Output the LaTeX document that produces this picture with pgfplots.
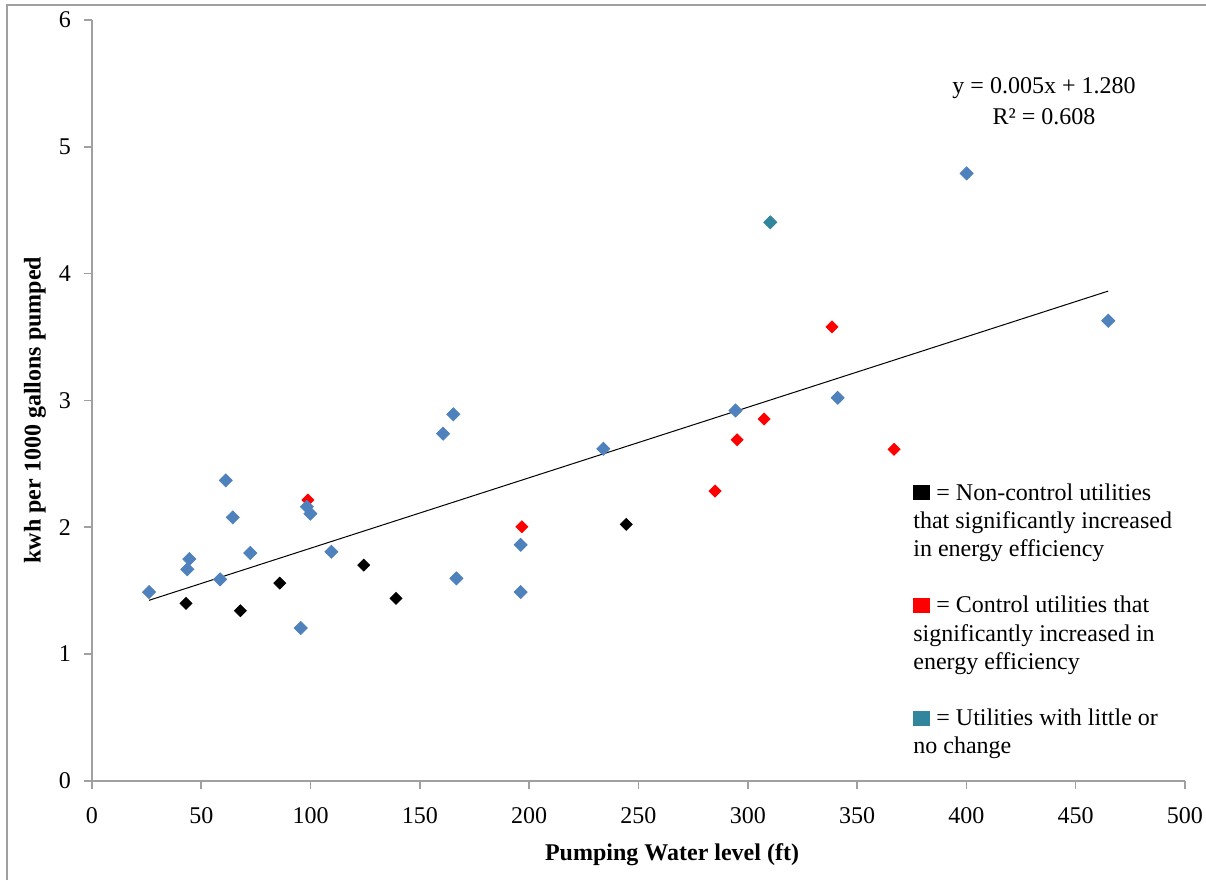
\documentclass[border=0pt]{standalone}
\usepackage{pgfplots}
\pgfplotsset{compat=1.18}
\usepackage{fontspec}
\setmainfont{Liberation Serif}
\definecolor{xlblue}{HTML}{4F81BD}
\definecolor{xlred}{HTML}{FF0000}
\definecolor{xlteal}{HTML}{31859C}
\definecolor{axgray}{HTML}{A0A0A0}
\pgfplotstableread{
x y
98.8 2.214
196.7 2.003
285.0 2.285
295.1 2.689
307.5 2.853
338.5 3.580
366.9 2.614
}\redpts
\pgfplotstableread{
x y
26.1 1.488
43.6 1.667
44.5 1.748
58.6 1.588
61.2 2.369
64.4 2.077
72.4 1.796
95.5 1.204
98.3 2.161
99.9 2.106
109.5 1.806
160.6 2.737
165.3 2.890
166.7 1.596
196.1 1.861
196.1 1.488
233.9 2.618
294.4 2.920
341.1 3.020
400.1 4.790
464.9 3.628
}\bluepts
\pgfplotstableread{
x y
43.0 1.399
67.9 1.341
85.9 1.559
124.3 1.701
139.1 1.438
244.4 2.022
}\blackpts
\pgfplotstableread{
x y
310.3 4.404
}\tealpts
\newcommand{\tw}{\fontsize{12pt}{14.4pt}\selectfont}
\begin{document}
\begin{tikzpicture}
\path[use as bounding box] (-46pt,-49.65pt) rectangle (557pt,390.35pt);
\draw[axgray, line width=1pt] (-42.5pt,-49.65pt) -- (-42.5pt,387.85pt) -- (557pt,387.85pt);
\begin{axis}[
  scale only axis, width=546.5pt, height=380.35pt,
  xmin=0, xmax=500, ymin=0, ymax=6,
  axis x line=bottom, axis y line=left,
  axis line style={draw=axgray, line width=0.8pt, -},
  xtick={0,50,...,500}, ytick={0,1,...,6},
  tick align=outside, major tick length=4pt,
  tick style={axgray, line width=0.8pt},
  ticklabel style={font=\tw, text=black},
  /pgf/number format/assume math mode=true,
  scaled ticks=false,
  xticklabel style={yshift=-6pt},
  yticklabel style={xshift=-3pt},
  xlabel={Pumping Water level (ft)},
  ylabel={kwh per 1000 gallons pumped},
  xlabel style={at={(axis description cs:0.5307,-0.0977)}, anchor=center, font=\bfseries\tw},
  ylabel style={at={(axis description cs:-0.05215,0.4873)}, anchor=center, font=\bfseries\tw},
  clip=false,
]
\addplot[only marks, mark=square*, mark size=2.1pt, mark options={rotate=45, fill=xlred, draw=xlred}] table {\redpts};
\addplot[only marks, mark=square*, mark size=2.3pt, mark options={rotate=45, fill=xlblue, draw=xlblue}] table {\bluepts};
\addplot[only marks, mark=square*, mark size=2.1pt, mark options={rotate=45, fill=black, draw=black}] table {\blackpts};
\addplot[only marks, mark=square*, mark size=2.3pt, mark options={rotate=45, fill=xlteal, draw=xlteal}] table {\tealpts};
\addplot[black, line width=0.5pt, mark=none] coordinates {(26.1,1.423) (464.9,3.862)};
\end{axis}
\node[anchor=base, font=\tw] at (476pt,343.35pt) {y = 0.005x + 1.280};
\node[anchor=base, font=\tw] at (476pt,328.35pt) {R² = 0.608};
\begin{scope}[every node/.style={anchor=base west, inner sep=0pt, font=\tw}]
\node at (410.5pt,140.35pt) {\textcolor{black}{\rule{8.5pt}{7.5pt}} = Non-control utilities};
\node at (410.5pt,126.25pt) {that significantly increased};
\node at (410.5pt,112.15pt) {in energy efficiency};
\node at (410.5pt,83.95pt) {\textcolor{xlred}{\rule{8.5pt}{7.5pt}} = Control utilities that};
\node at (410.5pt,69.85pt) {significantly increased in};
\node at (410.5pt,55.75pt) {energy efficiency};
\node at (410.5pt,27.55pt) {\textcolor{xlteal}{\rule{8.5pt}{7.5pt}} = Utilities with little or};
\node at (410.5pt,13.45pt) {no change};
\end{scope}
\end{tikzpicture}
\end{document}
